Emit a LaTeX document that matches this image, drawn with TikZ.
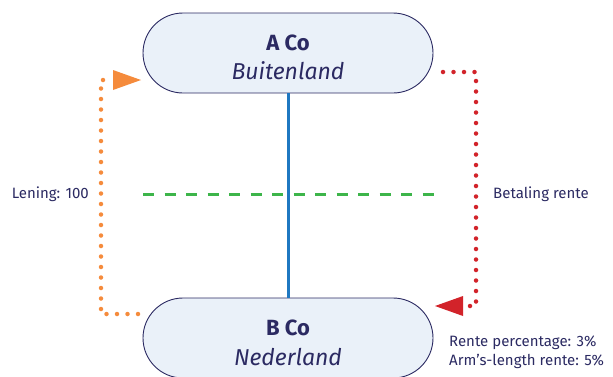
\documentclass[tikz,border=0pt]{standalone}
\usepackage{fontspec}
\setmainfont{Fira Sans}
\usetikzlibrary{arrows.meta}
\definecolor{navy}{HTML}{2B2A62}
\definecolor{boxfill}{HTML}{EAF1F9}
\definecolor{lineblue}{HTML}{1F78C1}
\definecolor{dgreen}{HTML}{3DB54A}
\definecolor{dorange}{HTML}{F58B3C}
\definecolor{dred}{HTML}{D2232A}
\tikzset{
  company/.style={draw=navy, fill=boxfill, line width=0.9pt, rounded corners=40pt,
    minimum width=290pt, minimum height=80pt, inner sep=0pt},
  ctitle/.style={text=navy, font=\fontsize{22}{26}\selectfont\bfseries, inner sep=0pt},
  csub/.style={text=navy, font=\fontsize{23}{27}\selectfont\itshape, inner sep=0pt},
  lbl/.style={text=navy, font=\fontsize{15}{19}\selectfont, inner sep=0pt},
  dotline/.style={line width=4.5pt, line cap=round, dash pattern=on 0pt off 10.5pt}
}
\begin{document}
\begin{tikzpicture}[x=1pt,y=-1pt]
\useasboundingbox (0,0) rectangle (613,376);
\clip (0,0) rectangle (613,376);
\node[company] (a) at (288,53) {};
\node[ctitle] (at) at (288,43) {A Co};
\node[csub] (as) at (288,71) {Buitenland};
\node[company] (b) at (288,338) {};
\node[ctitle] (bt) at (288,328) {B Co};
\node[csub] (bs) at (288,357) {Nederland};
\draw[lineblue, line width=3pt] (a.south) -- (b.north);
\coordinate (g1) at (143,194);
\coordinate (g2) at (435,194);
\draw[dgreen, line width=3pt, dash pattern=on 11pt off 10.5pt] (g1) -- (g2);
\coordinate (o1) at (138,314);
\coordinate (o2) at (101,80);
\coordinate (o3) at (141,80);
\draw[dorange, dotline] (o1) -| (o2) -- (113,80);
\fill[dorange] (113,70) -- (o3) -- (113,90) -- cycle;
\coordinate (r1) at (443,72);
\coordinate (r2) at (476,306);
\coordinate (r3) at (435,306);
\draw[dred, dotline] (r1) -| (r2) -- (463,306);
\fill[dred] (463,296) -- (r3) -- (463,316) -- cycle;
\node[lbl, anchor=east] (len) at (89,194) {Lening: 100};
\node[lbl, anchor=west] (bet) at (493,194) {Betaling rente};
\node[lbl, anchor=west, align=left] (ren) at (449,352) {Rente percentage: 3\%\\Arm’s-length rente: 5\%};
\end{tikzpicture}
\end{document}
